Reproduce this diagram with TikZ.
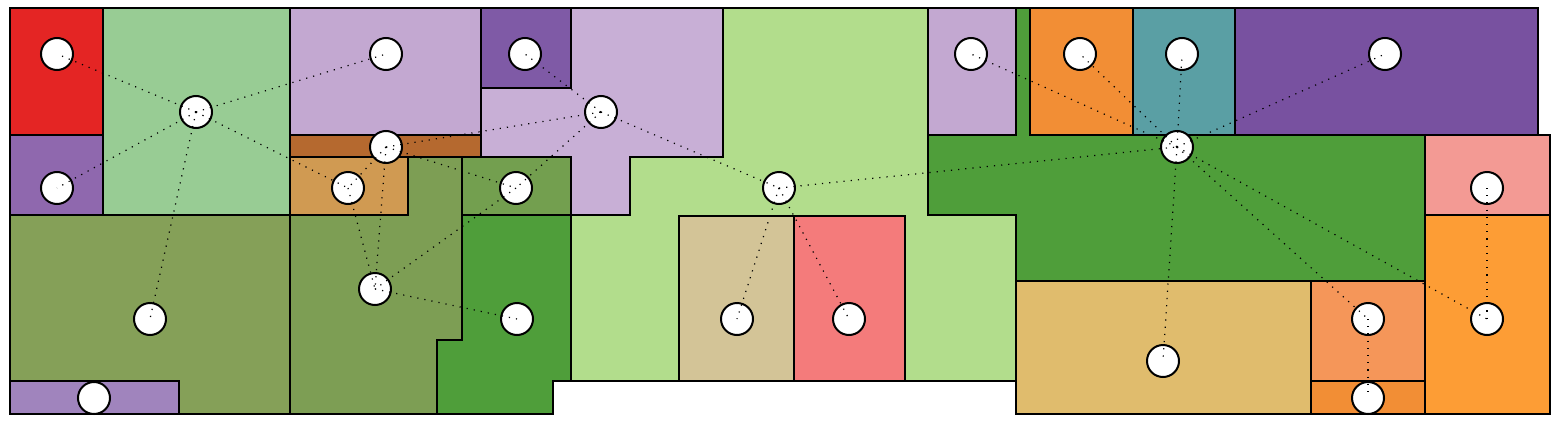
\documentclass[tikz,border=0pt]{standalone}
\definecolor{cRed}{HTML}{E42524}
\definecolor{cLGreenA}{HTML}{98CC94}
\definecolor{cPurpL}{HTML}{8F68AE}
\definecolor{cLilacA}{HTML}{C3A8D1}
\definecolor{cBrown}{HTML}{B5692F}
\definecolor{cTan}{HTML}{D09A52}
\definecolor{cDPurp}{HTML}{7F5AA6}
\definecolor{cLilacB}{HTML}{C8AFD6}
\definecolor{cOliveA}{HTML}{85A058}
\definecolor{cOliveB}{HTML}{7D9E54}
\definecolor{cSGreen}{HTML}{739F4F}
\definecolor{cGreen}{HTML}{4F9E3A}
\definecolor{cLGreenB}{HTML}{B2DD8C}
\definecolor{cBeige}{HTML}{D3C497}
\definecolor{cPinkRed}{HTML}{F47B7B}
\definecolor{cOrange}{HTML}{F28E35}
\definecolor{cTeal}{HTML}{5A9FA4}
\definecolor{cPurpR}{HTML}{7851A0}
\definecolor{cPink}{HTML}{F39A94}
\definecolor{cYellow}{HTML}{E0BC6D}
\definecolor{cSalmon}{HTML}{F59659}
\definecolor{cOrangeR}{HTML}{FD9D35}
\definecolor{cPurpS}{HTML}{A084BD}
\begin{document}
\begin{tikzpicture}[x=0.5pt,y=-0.5pt,
  room/.style={draw=black,line width=1pt,line join=miter},
  vtx/.style={circle,draw=black,fill=white,line width=1pt,minimum size=16pt,inner sep=0pt},
  link/.style={line width=0.6pt,dash pattern=on 0.6pt off 3pt}]
\useasboundingbox (0,0) rectangle (1557,428);
% rooms
\path[room,fill=cLGreenB] (630,215) -- (630,157) -- (723,157) -- (723,8) -- (928,8) -- (928,215) -- (1016,215) -- (1016,381) -- (571,381) -- (571,215) -- cycle;
\path[room,fill=cRed] (10,8) rectangle (103,135);
\path[room,fill=cPurpL] (10,135) rectangle (103,215);
\path[room,fill=cLGreenA] (103,8) rectangle (290,215);
\path[room,fill=cLilacA] (290,8) rectangle (481,135);
\path[room,fill=cBrown] (290,135) rectangle (481,157);
\path[room,fill=cTan] (290,157) rectangle (408,215);
\path[room,fill=cDPurp] (481,8) rectangle (571,88);
\path[room,fill=cLilacB] (571,8) -- (723,8) -- (723,157) -- (630,157) -- (630,215) -- (571,215) -- (571,157) -- (481,157) -- (481,88) -- (571,88) -- cycle;
\path[room,fill=cOliveA] (10,215) rectangle (290,414);
\path[room,fill=cPurpS] (10,381) rectangle (179,414);
\path[room,fill=cOliveB] (290,215) -- (408,215) -- (408,157) -- (462,157) -- (462,340) -- (437,340) -- (437,414) -- (290,414) -- cycle;
\path[room,fill=cSGreen] (462,157) rectangle (571,215);
\path[room,fill=cGreen] (462,215) -- (571,215) -- (571,381) -- (553,381) -- (553,414) -- (437,414) -- (437,340) -- (462,340) -- cycle;
\path[room,fill=cBeige] (679,216) rectangle (794,381);
\path[room,fill=cPinkRed] (794,216) rectangle (905,381);
\path[room,fill=cGreen] (928,135) -- (1016,135) -- (1016,8) -- (1030,8) -- (1030,135) -- (1425,135) -- (1425,281) -- (1016,281) -- (1016,215) -- (928,215) -- cycle;
\path[room,fill=cLilacA] (928,8) rectangle (1016,135);
\path[room,fill=cOrange] (1030,8) rectangle (1133,135);
\path[room,fill=cTeal] (1133,8) rectangle (1235,135);
\path[room,fill=cPurpR] (1235,8) rectangle (1538,135);
\path[room,fill=cPink] (1425,135) rectangle (1550,215);
\path[room,fill=cYellow] (1016,281) rectangle (1311,414);
\path[room,fill=cSalmon] (1311,281) rectangle (1425,381);
\path[room,fill=cOrange] (1311,381) rectangle (1425,414);
\path[room,fill=cOrangeR] (1425,215) rectangle (1550,414);
% vertices
\node[vtx] (A) at (57,54) {};
\node[vtx] (B) at (57,188) {};
\node[vtx] (H1) at (196,112) {};
\node[vtx] (C) at (386,54) {};
\node[vtx] (D) at (386,147) {};
\node[vtx] (E) at (348,188) {};
\node[vtx] (F) at (150,319) {};
\node[vtx] (G) at (94,398) {};
\node[vtx] (I) at (375,289) {};
\node[vtx] (J) at (517,319) {};
\node[vtx] (K) at (525,54) {};
\node[vtx] (H2) at (601,112) {};
\node[vtx] (L) at (516,188) {};
\node[vtx] (H3) at (779,188) {};
\node[vtx] (M) at (737,319) {};
\node[vtx] (N) at (849,319) {};
\node[vtx] (O) at (971,54) {};
\node[vtx] (P) at (1080,54) {};
\node[vtx] (Q) at (1182,54) {};
\node[vtx] (R) at (1385,54) {};
\node[vtx] (H4) at (1177,147) {};
\node[vtx] (S) at (1487,188) {};
\node[vtx] (T) at (1163,361) {};
\node[vtx] (U) at (1368,319) {};
\node[vtx] (V) at (1368,398) {};
\node[vtx] (W) at (1487,319) {};
% links
\foreach \a/\b in {H1/A,H1/B,H1/C,H1/E,H1/F,D/E,D/I,E/I,D/L,D/H2,H2/K,H2/L,L/I,I/J,H2/H3,H3/M,H3/N,H3/H4,H4/O,H4/P,H4/Q,H4/R,H4/T,H4/U,H4/W,S/W,U/V}
  \draw[link] (\a.center) -- (\b.center);
\end{tikzpicture}
\end{document}
